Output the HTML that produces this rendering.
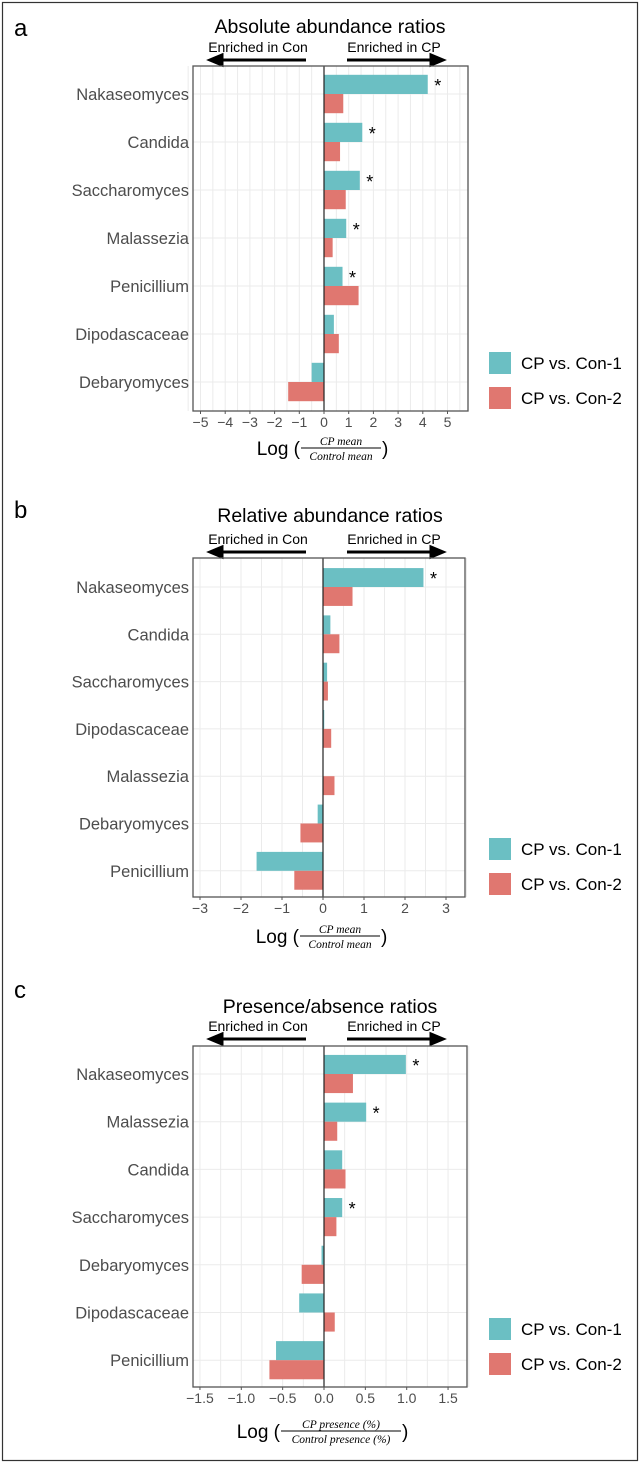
<!DOCTYPE html>
<html><head><meta charset="utf-8">
<style>
html,body{margin:0;padding:0;background:#fff;}
svg{display:block;font-family:"Liberation Sans",sans-serif;}
</style></head>
<body>
<svg id="fig" width="640" height="1463" viewBox="0 0 640 1463" xmlns="http://www.w3.org/2000/svg">
<rect x="2.5" y="2.5" width="635" height="1458" fill="none" stroke="#333" stroke-width="1.2"/>
</svg>
<script>
// ---- data ----
const catsA = ["Nakaseomyces","Candida","Saccharomyces","Malassezia","Penicillium","Dipodascaceae","Debaryomyces"];
const con1A = [4.2, 1.55, 1.45, 0.9, 0.75, 0.4, -0.5];
const con2A = [0.78, 0.65, 0.88, 0.35, 1.4, 0.6, -1.45];
const sigA = [1,1,1,1,1,0,0];
const ticksA = [-5,-4,-3,-2,-1,0,1,2,3,4,5];

const catsB = ["Nakaseomyces","Candida","Saccharomyces","Dipodascaceae","Malassezia","Debaryomyces","Penicillium"];
const con1B = [2.45, 0.18, 0.1, 0.03, 0.01, -0.13, -1.62];
const con2B = [0.72, 0.4, 0.12, 0.2, 0.28, -0.55, -0.7];
const sigB = [1,0,0,0,0,0,0];
const ticksB = [-3,-2,-1,0,1,2,3];

const catsC = ["Nakaseomyces","Malassezia","Candida","Saccharomyces","Debaryomyces","Dipodascaceae","Penicillium"];
const con1C = [0.99, 0.51, 0.22, 0.22, -0.03, -0.3, -0.58];
const con2C = [0.35, 0.16, 0.26, 0.15, -0.27, 0.13, -0.66];
const sigC = [1,1,0,1,0,0,0];
const ticksC = [-1.5,-1.0,-0.5,0.0,0.5,1.0,1.5];
const ticksCLabels = ["\u22121.5","\u22121.0","\u22120.5","0.0","0.5","1.0","1.5"];

const NS="http://www.w3.org/2000/svg";
const svg=document.getElementById('fig');
function mk(tag,attrs,parent){const e=document.createElementNS(NS,tag);for(const k in attrs)e.setAttribute(k,attrs[k]);(parent||svg).appendChild(e);return e;}

function panel(cfg){
  const g=mk('g',{});
  
  
  const x=v=>cfg.x0+(v)*cfg.ppu;
  const yc=i=>cfg.cy0+i*cfg.dy;
  const lt=mk('text',{x:14,y:cfg.letterY,'font-size':24,fill:'#000'},g);lt.textContent=cfg.letter;
  
  
  const tt=mk('text',{x:330,y:cfg.titleY,'font-size':19.5,'text-anchor':'middle',fill:'#000'},g);tt.textContent=cfg.title;
  
  
  const e1=mk('text',{x:258,y:cfg.enrY,'font-size':14,'text-anchor':'middle',fill:'#000'},g);e1.textContent="Enriched in Con";
  
  
  const e2=mk('text',{x:394,y:cfg.enrY,'font-size':14,'text-anchor':'middle',fill:'#000'},g);e2.textContent="Enriched in CP";
  
  
  const a1=mk('path',{d:`M306 ${cfg.arrY} L220 ${cfg.arrY} M210 ${cfg.arrY} L222 ${cfg.arrY-5} L222 ${cfg.arrY+5} Z`,stroke:'#000','stroke-width':3,fill:'#000'},g);
  
  
  const a2=mk('path',{d:`M347 ${cfg.arrY} L433 ${cfg.arrY} M443 ${cfg.arrY} L431 ${cfg.arrY-5} L431 ${cfg.arrY+5} Z`,stroke:'#000','stroke-width':3,fill:'#000'},g);
  
  
  for(let v=cfg.gmin; v<=cfg.gmax+1e-9; v+=cfg.minor){
    const l=mk('line',{x1:x(v),x2:x(v),y1:cfg.top,y2:cfg.bottom,stroke:'#ebebeb','stroke-width':1},g);
    
    
  }
  cfg.cats.forEach((c,i)=>{
    const l=mk('line',{x1:cfg.left,x2:cfg.right,y1:yc(i),y2:yc(i),stroke:'#ebebeb','stroke-width':1},g);
    
    
  });
  const bh=cfg.dy*0.4;
  cfg.cats.forEach((c,i)=>{
    const v1=cfg.s1[i],v2=cfg.s2[i];
    const r1=mk('rect',{x:Math.min(x(0),x(v1)),y:yc(i)-bh,width:Math.abs(x(v1)-x(0)),height:bh,fill:'#6bbfc3'},g);
    
    
    const r2=mk('rect',{x:Math.min(x(0),x(v2)),y:yc(i),width:Math.abs(x(v2)-x(0)),height:bh,fill:'#e07770'},g);
    
    
    if(cfg.sig[i]){
      const s=mk('text',{x:x(v1)+10,y:yc(i)-2,'font-size':18,fill:'#000','text-anchor':'middle'},g);s.textContent="*";
      
      
    }
    const lb=mk('text',{x:cfg.left-4,y:yc(i)+6,'font-size':16.5,'text-anchor':'end',fill:'#4d4d4d'},g);lb.textContent=c;
    
    
  });
  const z=mk('line',{x1:x(0),x2:x(0),y1:cfg.top,y2:cfg.bottom,stroke:'#222','stroke-width':1.2},g);
  
  
  const bx=mk('rect',{x:cfg.left,y:cfg.top,width:cfg.right-cfg.left,height:cfg.bottom-cfg.top,fill:'none',stroke:'#555','stroke-width':1.3},g);
  
  
  cfg.ticks.forEach((t,i)=>{
    mk('line',{x1:x(t),x2:x(t),y1:cfg.bottom,y2:cfg.bottom+3,stroke:'#555'},g);
    const tl=mk('text',{x:x(t),y:cfg.bottom+16,'font-size':14,'text-anchor':'middle',fill:'#4d4d4d'},g);
    tl.textContent=cfg.tickLabels?cfg.tickLabels[i]:String(t).replace('-','\u2212');
    
    
  });
  const xl=mk('g',{},g);
  
  
  const fx=cfg.fracX, fy=cfg.xlabY;
  const lg=mk('text',{x:fx-cfg.fw/2-1,y:fy+7,'font-size':19,'text-anchor':'end',fill:'#000'},xl);lg.textContent="Log (";
  const num=mk('text',{x:fx,y:fy-3,'font-size':11.5,'font-style':'italic','font-family':'Liberation Serif, serif','text-anchor':'middle',fill:'#000'},xl);num.textContent=cfg.num;
  mk('line',{x1:fx-cfg.fw/2,x2:fx+cfg.fw/2,y1:fy,y2:fy,stroke:'#000','stroke-width':0.9},xl);
  const den=mk('text',{x:fx,y:fy+12,'font-size':11.5,'font-style':'italic','font-family':'Liberation Serif, serif','text-anchor':'middle',fill:'#000'},xl);den.textContent=cfg.den;
  const rp=mk('text',{x:fx+cfg.fw/2+1,y:fy+7,'font-size':19,fill:'#000'},xl);rp.textContent=")";
  [['#6bbfc3','CP vs. Con-1'],['#e07770','CP vs. Con-2']].forEach((L,k)=>{
    const ly=cfg.legY+k*35;
    const sq=mk('rect',{x:489,y:ly,width:22,height:22,fill:L[0]},g);
    
    
    const lt2=mk('text',{x:521,y:ly+17,'font-size':17,fill:'#000'},g);lt2.textContent=L[1];
    
    
  });
}

panel({name:'panel-a-absolute',letter:'a',letterY:36,title:'Absolute abundance ratios',titleY:33,enrY:52,arrY:60,
  left:193,right:468,top:66,bottom:411,x0:324,ppu:24.7,cy0:94,dy:48,gmin:-5.5,gmax:5.5,minor:0.5,
  cats:catsA,s1:con1A,s2:con2A,sig:sigA,ticks:ticksA,xlabY:448,fracX:341,fw:80,num:'CP mean',den:'Control mean',legY:352});
panel({name:'panel-b-relative',letter:'b',letterY:518,title:'Relative abundance ratios',titleY:522,enrY:544,arrY:552,
  left:193,right:465,top:558,bottom:897,x0:323,ppu:41,cy0:587,dy:47.3,gmin:-3,gmax:3.5,minor:0.5,
  cats:catsB,s1:con1B,s2:con2B,sig:sigB,ticks:ticksB,xlabY:936,fracX:340,fw:80,num:'CP mean',den:'Control mean',legY:838});
panel({name:'panel-c-presence',letter:'c',letterY:998,title:'Presence/absence ratios',titleY:1013,enrY:1031,arrY:1039,
  left:193,right:467,top:1046,bottom:1387,x0:324,ppu:82.7,cy0:1074,dy:47.7,gmin:-1.5,gmax:1.75,minor:0.25,
  cats:catsC,s1:con1C,s2:con2C,sig:sigC,ticks:ticksC,tickLabels:ticksCLabels,xlabY:1431,fracX:341,fw:120,num:'CP presence (%)',den:'Control presence (%)',legY:1318});
</script>
</body></html>
